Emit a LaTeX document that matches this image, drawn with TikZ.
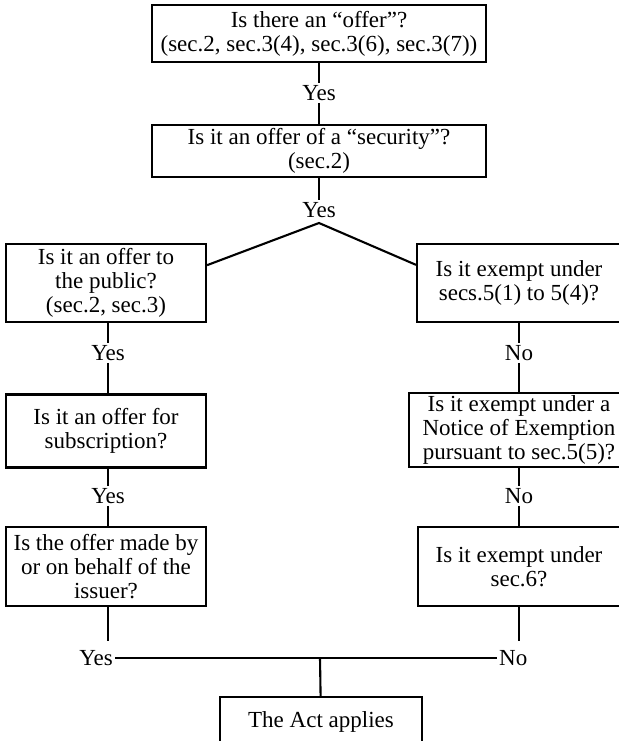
\documentclass[tikz,border=0pt]{standalone}
\usepackage{fontspec}
\setmainfont{Liberation Serif}
\begin{document}
\begin{tikzpicture}[x=1pt,y=-1pt,
  box/.style={draw,line width=2.1pt,align=center,inner sep=0pt,font=\fontsize{23}{24}\selectfont},
  lab/.style={font=\fontsize{23}{24}\selectfont,inner sep=2pt},
  conn/.style={line width=2.1pt}]
\useasboundingbox (0,0) rectangle (618,741);
% top column
\node[box,minimum width=334pt,minimum height=57pt] (q1) at (319,33.5) {Is there an ``offer''?\\(sec.2, sec.3(4), sec.3(6), sec.3(7))};
\node[lab] (y1) at (319,93) {Yes};
\node[box,minimum width=334pt,minimum height=52pt] (q2) at (319,151) {Is it an offer of a ``security''?\\(sec.2)};
\node[lab] (y2) at (319,210) {Yes};
\coordinate (j) at (319,223);
% left column
\node[box,minimum width=200pt,minimum height=78pt] (la) at (106,283) {Is it an offer to\\the public?\\(sec.2, sec.3)};
\node[lab] (ly1) at (108,353) {Yes};
\node[box,minimum width=200pt,minimum height=73pt] (lb) at (106,431) {Is it an offer for\\subscription?};
\node[lab] (ly2) at (108,496) {Yes};
\node[box,minimum width=200pt,minimum height=79pt] (lc) at (106,566.5) {Is the offer made by\\or on behalf of the\\issuer?};
% right column
\node[box,minimum width=204pt,minimum height=78pt] (ra) at (519,283) {Is it exempt under\\secs.5(1) to 5(4)?};
\node[lab] (rn1) at (519,353) {No};
\node[box,minimum width=220pt,minimum height=74pt] (rb) at (519,430) {Is it exempt under a\\Notice of Exemption\\pursuant to sec.5(5)?};
\node[lab] (rn2) at (519,496) {No};
\node[box,minimum width=202pt,minimum height=79pt] (rc) at (519,566.5) {Is it exempt under\\sec.6?};
% bottom
\coordinate (lend) at (108,641);
\coordinate (rend) at (519,641);
\node[lab,anchor=east] (yb) at (115,658) {Yes};
\node[lab,anchor=west] (nb) at (497,658) {No};
\coordinate (m) at (320,658);
\node[box,minimum width=202pt,minimum height=50pt] (act) at (321,722) {The Act applies};
% connectors
\draw[conn] (q1) -- (y1);
\draw[conn] (y1) -- (q2);
\draw[conn] (q2) -- (y2);
\draw[conn] (la.10) -- (j) -- (ra.170);
\draw[conn] (la.south -| ly1) -- (ly1);
\draw[conn] (ly1) -- (lb.north -| ly1);
\draw[conn] (lb.south -| ly2) -- (ly2);
\draw[conn] (ly2) -- (lc.north -| ly2);
\draw[conn] (ra) -- (rn1);
\draw[conn] (rn1) -- (rb);
\draw[conn] (rb) -- (rn2);
\draw[conn] (rn2) -- (rc);
\draw[conn] (lc.south -| lend) -- (lend);
\draw[conn] (rc) -- (rend);
\draw[conn] (yb) -- (nb);
\draw[conn] (m) -- (act);
\end{tikzpicture}
\end{document}
